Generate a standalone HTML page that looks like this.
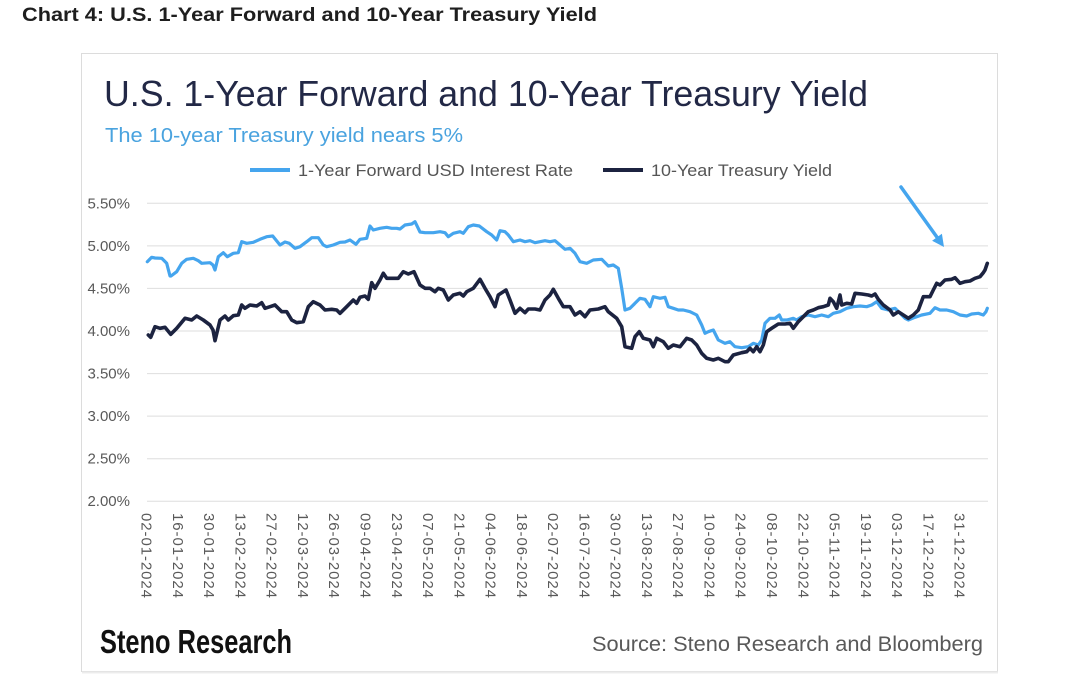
<!DOCTYPE html>
<html>
<head>
<meta charset="utf-8">
<style>
html,body{margin:0;padding:0;background:#fff;}
svg{display:block;}
text{font-family:"Liberation Sans",sans-serif;}
</style>
</head>
<body>
<svg width="1080" height="687" viewBox="0 0 1080 687" xmlns="http://www.w3.org/2000/svg">
<rect x="0" y="0" width="1080" height="687" fill="#fff"/>
<text x="22" y="21" font-size="19" font-weight="bold" fill="#1e1e1e" textLength="575" lengthAdjust="spacingAndGlyphs">Chart 4: U.S. 1-Year Forward and 10-Year Treasury Yield</text>

<rect x="81.5" y="53.5" width="916" height="618" fill="#fff" stroke="#dcdcdc" stroke-width="1"/>
<line x1="82" y1="672.5" x2="998" y2="672.5" stroke="#ececec" stroke-width="2"/>

<text x="104" y="106" font-size="36" fill="#222846" textLength="764" lengthAdjust="spacingAndGlyphs">U.S. 1-Year Forward and 10-Year Treasury Yield</text>
<text x="105" y="142" font-size="20" fill="#4aa3df" textLength="358" lengthAdjust="spacingAndGlyphs">The 10-year Treasury yield nears 5%</text>

<line x1="250" y1="170" x2="290" y2="170" stroke="#45a5ee" stroke-width="4"/>
<text x="298" y="176" font-size="17" fill="#555" textLength="275" lengthAdjust="spacingAndGlyphs">1-Year Forward USD Interest Rate</text>
<line x1="603" y1="170" x2="643" y2="170" stroke="#1c2340" stroke-width="4"/>
<text x="651" y="176" font-size="17" fill="#555" textLength="181" lengthAdjust="spacingAndGlyphs">10-Year Treasury Yield</text>

<g stroke="#dedede" stroke-width="1">
<line x1="147" y1="203.3" x2="988" y2="203.3"/>
<line x1="147" y1="245.9" x2="988" y2="245.9"/>
<line x1="147" y1="288.4" x2="988" y2="288.4"/>
<line x1="147" y1="331" x2="988" y2="331"/>
<line x1="147" y1="373.6" x2="988" y2="373.6"/>
<line x1="147" y1="416.1" x2="988" y2="416.1"/>
<line x1="147" y1="458.7" x2="988" y2="458.7"/>
<line x1="147" y1="501.2" x2="988" y2="501.2"/>
</g>
<g font-size="15" fill="#595959" text-anchor="end">
<text x="130" y="208.3">5.50%</text>
<text x="130" y="250.9">5.00%</text>
<text x="130" y="293.4">4.50%</text>
<text x="130" y="336">4.00%</text>
<text x="130" y="378.6">3.50%</text>
<text x="130" y="421.1">3.00%</text>
<text x="130" y="463.7">2.50%</text>
<text x="130" y="506.2">2.00%</text>
</g>

<g font-size="15" fill="#595959">
<text transform="translate(147,513) rotate(90)" dy="5.4" textLength="85">02-01-2024</text>
<text transform="translate(178.3,513) rotate(90)" dy="5.4" textLength="85">16-01-2024</text>
<text transform="translate(209.5,513) rotate(90)" dy="5.4" textLength="85">30-01-2024</text>
<text transform="translate(240.8,513) rotate(90)" dy="5.4" textLength="85">13-02-2024</text>
<text transform="translate(272.1,513) rotate(90)" dy="5.4" textLength="85">27-02-2024</text>
<text transform="translate(303.4,513) rotate(90)" dy="5.4" textLength="85">12-03-2024</text>
<text transform="translate(334.6,513) rotate(90)" dy="5.4" textLength="85">26-03-2024</text>
<text transform="translate(365.9,513) rotate(90)" dy="5.4" textLength="85">09-04-2024</text>
<text transform="translate(397.2,513) rotate(90)" dy="5.4" textLength="85">23-04-2024</text>
<text transform="translate(428.4,513) rotate(90)" dy="5.4" textLength="85">07-05-2024</text>
<text transform="translate(459.7,513) rotate(90)" dy="5.4" textLength="85">21-05-2024</text>
<text transform="translate(491,513) rotate(90)" dy="5.4" textLength="85">04-06-2024</text>
<text transform="translate(522.2,513) rotate(90)" dy="5.4" textLength="85">18-06-2024</text>
<text transform="translate(553.5,513) rotate(90)" dy="5.4" textLength="85">02-07-2024</text>
<text transform="translate(584.8,513) rotate(90)" dy="5.4" textLength="85">16-07-2024</text>
<text transform="translate(616,513) rotate(90)" dy="5.4" textLength="85">30-07-2024</text>
<text transform="translate(647.3,513) rotate(90)" dy="5.4" textLength="85">13-08-2024</text>
<text transform="translate(678.6,513) rotate(90)" dy="5.4" textLength="85">27-08-2024</text>
<text transform="translate(709.9,513) rotate(90)" dy="5.4" textLength="85">10-09-2024</text>
<text transform="translate(741.1,513) rotate(90)" dy="5.4" textLength="85">24-09-2024</text>
<text transform="translate(772.4,513) rotate(90)" dy="5.4" textLength="85">08-10-2024</text>
<text transform="translate(803.7,513) rotate(90)" dy="5.4" textLength="85">22-10-2024</text>
<text transform="translate(834.9,513) rotate(90)" dy="5.4" textLength="85">05-11-2024</text>
<text transform="translate(866.2,513) rotate(90)" dy="5.4" textLength="85">19-11-2024</text>
<text transform="translate(897.5,513) rotate(90)" dy="5.4" textLength="85">03-12-2024</text>
<text transform="translate(928.7,513) rotate(90)" dy="5.4" textLength="85">17-12-2024</text>
<text transform="translate(960,513) rotate(90)" dy="5.4" textLength="85">31-12-2024</text>
</g>

<polyline fill="none" stroke="#45a5ee" stroke-width="3.2" stroke-linejoin="round" stroke-linecap="round" points="147.3,261.7 151.7,257.3 155,258 161.7,258.3 166.7,263.3 170,276 171,276 176.7,271.7 181.7,263.3 186.7,259.3 193.3,258.3 198.3,260.7 201.7,263.3 210,262.7 213,265 215,270 218.3,256.7 223.3,252.7 227.3,256.7 233.3,253.3 238.3,252.7 241.7,241.7 246.7,243.3 253.3,242.3 260,239.3 266.7,236.7 272.7,236 280,245 285,242 289.3,243.3 295,248.3 300,246.7 306.7,241.7 311.7,237.7 318.3,237.7 323.3,245 326.7,246.7 333.3,245 340,242.3 345,242 350,240 356,244.3 360,239.3 366.7,238.3 370,226 373.3,230 380,228.3 386.7,227.3 391.7,228.3 396.7,228.3 400,229 405,225 411.7,224 415,221.7 420,232 425,232.7 433.3,232.7 440,231.7 445,232.7 448.3,236.7 453.3,233.3 460,231.7 463.3,233.3 468.3,226.7 473.3,225 479.3,226 486.7,231.7 491.7,235 496.7,240 500,230.7 505,231.7 508.3,235 513.3,241.7 520,240 525,241.7 530,240.7 535,242.7 540,241.7 545,240.7 550,241.7 555,240.7 560,245 565,249.3 570,248.3 575,253.3 580,261.7 586.7,263.3 593.3,260 601.7,259.3 608.3,266 613.3,265 618.3,268.3 621.7,288.3 625,310 630,308.3 635,303.3 640,298.3 645,299.3 650,306.7 653.3,296.7 660,298.3 665,297.3 668.3,306.7 673.3,308.3 678.3,310 683.3,310 690,311.7 696.7,315 701.7,325 705,333.3 708.3,331.7 713.3,330 718.3,340 725,343.3 730,341.7 735,346.7 741.7,347.7 748.3,346.7 753.3,343.3 758.3,345 761.7,340 765,323.3 770,318.3 775,318.3 779.3,315 781.7,320 786.7,320 793.3,318.3 796.7,320 801.7,316.7 808.3,315 815,316.7 821.7,315 828.3,316.7 833.3,313.3 840,311.7 846.7,308.3 853.3,306.7 860,306 866.7,306.7 871.7,305 876.7,301.7 881.7,308.3 888.3,310 895,308.3 900,313.3 905,318.3 908.3,320 915,317.3 921.7,315 930,313.3 935,307.7 940,310 946.7,310 953.3,311.7 960,315 966.7,316 971.7,314 978.3,313.3 983.3,315 986,311.7 987.3,308.3"/>

<polyline fill="none" stroke="#1c2340" stroke-width="3.6" stroke-linejoin="round" stroke-linecap="round" points="148.3,335 150.7,337.3 155,326.7 160,328.3 165,327.3 170.7,334.3 176.7,328.3 185,318.3 191.7,320 196.7,316 203.3,320 210,325 213,330 215,340.7 220,320 225,316 228.3,320 233.3,315.7 238.3,315 241.7,305 245,308.3 250,305 256.7,306 261.7,302.7 265,308.3 270,306.7 275,305 281.7,311.7 286.7,311.7 291.7,320 296.7,322.7 303.3,321.7 308.3,306.7 313.3,301.7 320,305 325,310 331.7,309.3 336.7,310 340,313.3 346.7,306.7 353.3,300 356.7,303.3 360,297.3 365,296 368.3,299.3 371.7,282.7 375,288.3 380,280 383.3,273.3 386.7,278.3 393.3,278.3 398.3,278.3 403.3,271.7 408.3,274 414,271.7 420,285 425,288.3 430,288.3 435,291.7 438.3,288.3 443.3,290 448.3,300 453.3,295 460,293.3 463.3,296 466.7,291.7 473.3,288.3 480,279.3 485,288.3 490,296.7 495,306.7 498.3,295 506,290 510,300 515,313.3 520,308.3 525,312.7 528.3,309 535,309 540,310 545,300 550,295 553.3,289.3 558.3,298.3 563.3,306.7 570,306.7 575,315 580,311.7 585,316.7 590,310 598.3,309 605,306.7 608.3,311.7 616.7,318.3 621.7,326.7 625,346.7 631.7,348.3 635,336.7 639.3,331.7 643.3,338.3 650,340 653.3,346.7 656.7,338.3 663.3,341.7 668.3,348.3 673.3,345 680,346.7 686.7,338.3 691.7,340 696.7,345 701.7,353.3 706.7,358.3 713.3,360 718.3,358.3 725,361.7 728.3,361.7 733.3,355 741.7,352.7 746.7,351.7 750,348.3 753.3,351.7 756.7,346.7 760,351.7 763.3,345 766.7,331.7 771.7,328.3 778.3,324 785,324 790,323.3 793.3,328.3 798.3,321.7 803.3,316.7 808.3,311.7 813.3,310 818.3,307.7 823.3,306.7 828.3,305 830,298.3 833.3,301.7 836.7,308.3 840,295 841.7,305 846.7,303.3 851.7,304 855,293.3 861.7,294 868.3,295 871.7,296 875,294 878.3,299.3 883.3,305 890,310 893.3,315 898.3,311.7 903.3,315 908.3,318.3 913.3,315 918.3,310 923.3,296.7 930,296.7 933.3,290 936.7,283.3 940,285 945,280 951.7,279.3 955,277.7 960,283.3 965,281.7 970,281 975,278.3 980,276.7 983.3,272.7 985,270 987.3,263.3"/>

<line x1="901" y1="187" x2="939" y2="240" stroke="#45a5ee" stroke-width="3.5" stroke-linecap="round"/>
<polygon points="944,247 932.1,240.7 941.9,233.7" fill="#45a5ee"/>

<text x="100" y="653" font-family="'Liberation Sans Narrow','Liberation Sans',sans-serif" font-size="33" font-weight="bold" fill="#111" textLength="192" lengthAdjust="spacingAndGlyphs">Steno Research</text>
<text x="592" y="651" font-size="21" fill="#595959" textLength="391" lengthAdjust="spacingAndGlyphs">Source: Steno Research and Bloomberg</text>
</svg>
</body>
</html>
